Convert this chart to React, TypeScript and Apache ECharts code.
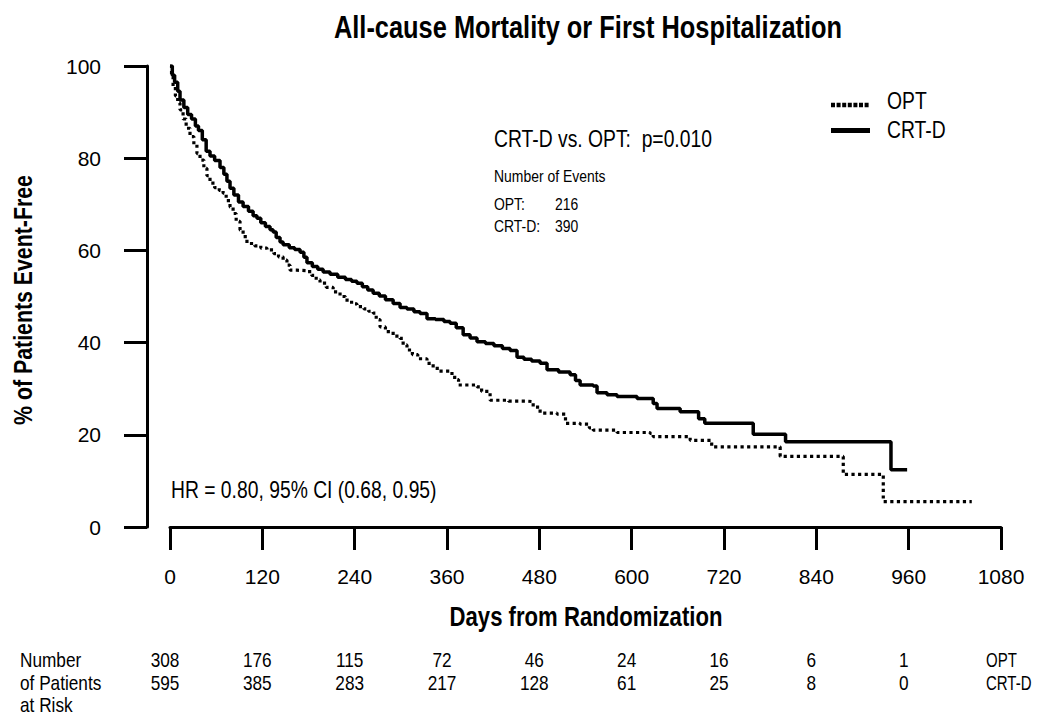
import React, { useEffect, useRef } from "react";
import * as echarts from "echarts";

const FONT = "'Liberation Sans', Arial, sans-serif";
const NARROW = 0.82;

const chartTitle = "All-cause Mortality or First Hospitalization";
const xAxisTitle = "Days from Randomization";
const yAxisTitle = "% of Patients Event-Free";
const seriesNames = ["OPT", "CRT-D"];

// Kaplan-Meier step points (day, % event-free)
const optDays = [0, 2, 4, 7, 10, 13, 17, 21, 26, 31, 35, 39, 44, 48, 52, 58, 64, 69, 73, 78, 82, 86, 91, 95, 100, 110, 118, 126, 135, 141, 147, 152, 156, 165, 178, 184, 190, 195, 203, 212, 221, 228, 236, 243, 252, 258, 264, 268, 273, 280, 290, 299, 303, 308, 315, 322, 334, 342, 350, 364, 370, 375, 399, 405, 416, 440, 464, 472, 481, 503, 514, 533, 545, 550, 581, 624, 628, 676, 704, 793, 875, 927, 1042];
const optPct = [100, 97.5, 95.5, 93.5, 92, 90.5, 88.5, 86.5, 84.7, 83, 81, 79.6, 77.8, 76.2, 74.6, 73.6, 73, 72.4, 70.8, 69.4, 68, 66.3, 64.4, 63, 61.5, 61, 60.5, 60.1, 59.3, 58.6, 57.9, 56.8, 55.7, 55.6, 55.4, 54.6, 53.6, 52.9, 52, 51, 50, 49.2, 48.4, 47.8, 47.3, 46.8, 46.4, 45, 43.4, 42.4, 41.4, 40.9, 39.5, 38.4, 37.4, 36.5, 35.5, 34.4, 33.8, 33.3, 32, 30.8, 30.4, 29.4, 27.5, 27.3, 27.2, 26, 24.7, 24.5, 22.5, 22.3, 21.5, 21, 20.5, 20.3, 19.6, 18.8, 17.4, 15.3, 11.4, 5.5, 5.5];

const crtdDays = [0, 3, 6, 10, 13, 18, 23, 28, 33, 37, 42, 47, 52, 58, 65, 70, 74, 78, 83, 89, 95, 102, 108, 113, 118, 124, 130, 134, 138, 143, 147, 155, 162, 169, 174, 178, 185, 192, 199, 208, 218, 228, 236, 243, 250, 257, 264, 272, 280, 290, 299, 308, 317, 325, 334, 345, 356, 364, 372, 381, 390, 399, 410, 421, 432, 442, 451, 460, 470, 481, 490, 505, 520, 527, 533, 550, 555, 568, 581, 607, 628, 633, 663, 687, 695, 758, 800, 937, 958];
const crtdPct = [100, 98, 96.5, 94.5, 92.6, 91, 89.5, 88.5, 87, 86, 84, 81.5, 80.5, 79.5, 78, 76.5, 75, 73.5, 72, 70.5, 69.5, 68.5, 67.5, 67, 66, 65.2, 64.5, 64, 62.8, 61.8, 61.2, 60.6, 60.2, 59.6, 58.5, 57.3, 56.5, 55.9, 55.3, 54.8, 54.2, 53.7, 53.3, 52.9, 52.1, 51.4, 50.7, 50.1, 49.3, 48.5, 47.6, 47.3, 46.7, 46.3, 45.2, 45, 44.6, 44.2, 43.2, 41.7, 41, 40.2, 39.8, 39.3, 38.7, 38.3, 36.8, 36.4, 36, 35.5, 34.1, 33.6, 33, 31.8, 30.8, 30.6, 29.1, 28.7, 28.3, 27.9, 26.8, 25.7, 25.0, 23.5, 22.5, 20.1, 18.5, 12.4, 12.4];

const pValueText = "CRT-D vs. OPT:  p=0.010";
const eventsHeader = "Number of Events";
const eventLabels = ["OPT:", "CRT-D:"];
const eventCounts = ["216", "390"];
const hrText = "HR = 0.80, 95% CI (0.68, 0.95)";

const riskDays = [0, 120, 240, 360, 480, 600, 720, 840, 960];
const riskOpt = [308, 176, 115, 72, 46, 24, 16, 6, 1];
const riskCrtd = [595, 385, 283, 217, 128, 61, 25, 8, 0];
const riskRowLabels = ["Number", "of Patients", "at Risk"];

const zip = (xs: number[], ys: number[]) => xs.map((x, i) => [x, ys[i]]);

export default function App() {
  const ref = useRef<HTMLDivElement>(null);
  useEffect(() => {
    if (!ref.current) return;
    const chart = echarts.init(ref.current, null, { renderer: "svg" });
    const axisTick = { show: true, length: 23, lineStyle: { color: "#000", width: 3 } };
    chart.setOption({
      animation: false,
      backgroundColor: "#fff",
      textStyle: { fontFamily: FONT },
      grid: { left: 170, right: 36, top: 66, bottom: 192, containLabel: false },
      xAxis: {
        type: "value",
        min: 0,
        max: 1080,
        interval: 120,
        splitLine: { show: false },
        axisLine: { show: true, onZero: false, lineStyle: { color: "#000", width: 3 } },
        axisTick,
        axisLabel: {
          color: "#000",
          fontSize: 21,
          fontFamily: FONT,
          margin: 39,
          formatter: (v: number) => String(v),
        },
      },
      yAxis: {
        type: "value",
        min: 0,
        max: 100,
        interval: 20,
        offset: 23,
        splitLine: { show: false },
        axisLine: { show: true, onZero: false, lineStyle: { color: "#000", width: 3 } },
        axisTick,
        axisLabel: { color: "#000", fontSize: 21, fontFamily: FONT, margin: 46 },
      },
      series: [
        {
          name: seriesNames[0],
          type: "line",
          step: "end",
          symbol: "none",
          data: zip(optDays, optPct),
          lineStyle: { color: "#000", width: 3.2, type: [3.2, 3.4] },
          itemStyle: { color: "#000" },
          z: 2,
        },
        {
          name: seriesNames[1],
          type: "line",
          step: "end",
          symbol: "none",
          data: zip(crtdDays, crtdPct),
          lineStyle: { color: "#000", width: 3.5, type: "solid" },
          itemStyle: { color: "#000" },
          z: 3,
        },
      ],
    });

    const txt = (text: string, x: number, y: number, fontSize: number, opts: any = {}) => ({
      type: "text",
      x,
      y,
      rotation: opts.rotation || 0,
      scaleX: opts.scaleX || NARROW,
      scaleY: 1,
      silent: true,
      style: {
        text,
        fontSize,
        fontFamily: FONT,
        fontWeight: opts.bold ? "bold" : "normal",
        fill: "#000",
        align: opts.align || "left",
        verticalAlign: "middle",
      },
    });

    const graphics: any[] = [];
    graphics.push(txt(chartTitle, 588, 27, 31, { bold: true, align: "center" }));
    graphics.push(txt(xAxisTitle, 586, 617, 27, { bold: true, align: "center" }));
    graphics.push(txt(yAxisTitle, 23, 300, 26, { bold: true, align: "center", rotation: Math.PI / 2 }));
    graphics.push(txt(pValueText, 494, 139, 23, { scaleX: 0.84 }));
    graphics.push(txt(eventsHeader, 494, 176, 17));
    graphics.push(txt(eventLabels[0], 494, 204, 17));
    graphics.push(txt(eventCounts[0], 555, 204, 17));
    graphics.push(txt(eventLabels[1], 494, 226, 17));
    graphics.push(txt(eventCounts[1], 555, 226, 17));
    graphics.push(txt(hrText, 171, 490, 23, { scaleX: 0.84 }));

    // legend
    graphics.push({
      type: "line",
      silent: true,
      shape: { x1: 831, y1: 105, x2: 870, y2: 105 },
      style: { stroke: "#000", lineWidth: 4.5, lineDash: [4, 1.6] },
    });
    graphics.push({
      type: "line",
      silent: true,
      shape: { x1: 831, y1: 130.5, x2: 870, y2: 130.5 },
      style: { stroke: "#000", lineWidth: 5 },
    });
    graphics.push(txt(seriesNames[0], 887, 101, 23, { scaleX: 0.84 }));
    graphics.push(txt(seriesNames[1], 887, 130, 23, { scaleX: 0.84 }));

    // number at risk table
    const rowY = [660, 683, 705];
    riskRowLabels.forEach((t, i) => graphics.push(txt(t, 20, rowY[i], 21)));
    riskDays.forEach((d, i) => {
      const px = chart.convertToPixel({ xAxisIndex: 0 }, d) as number;
      graphics.push(txt(String(riskOpt[i]), px - 5, rowY[0], 21, { align: "center" }));
      graphics.push(txt(String(riskCrtd[i]), px - 5, rowY[1], 21, { align: "center" }));
    });
    graphics.push(txt(seriesNames[0], 986, rowY[0], 20, { scaleX: 0.75 }));
    graphics.push(txt(seriesNames[1], 986, rowY[1], 20, { scaleX: 0.75 }));

    chart.setOption({ graphic: graphics });

    return () => chart.dispose();
  }, []);
  return (
    <div
      ref={ref}
      style={{ position: "fixed", left: 0, top: 0, width: 1037, height: 719, background: "#fff" }}
    />
  );
}
